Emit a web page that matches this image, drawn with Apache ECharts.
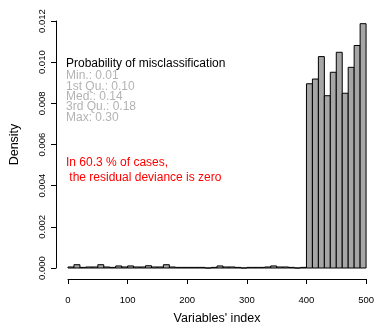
<!DOCTYPE html>
<html>
<head>
<meta charset="utf-8">
<script src="https://cdn.jsdelivr.net/npm/echarts@6/dist/echarts.min.js"></script>
<style>
  html, body { margin: 0; padding: 0; background: #fff; }
  #chart { width: 377px; height: 330px; }
</style>
</head>
<body>
<div id="chart"></div>
<script>
// histogram breaks (left edges of the bins)
var binStarts = [0, 10, 20, 30, 40, 50, 60, 70, 80, 90,
  100, 110, 120, 130, 140, 150, 160, 170, 180, 190,
  200, 210, 220, 230, 240, 250, 260, 270, 280, 290,
  300, 310, 320, 330, 340, 350, 360, 370, 380, 390,
  400, 410, 420, 430, 440, 450, 460, 470, 480, 490];
var binWidth = 10;
// density per bin
var density = [0.00005, 0.00016, 0.00003, 0.00005, 0.00005, 0.00016, 0.00005, 0.00003, 0.0001, 0.00005,
  0.0001, 0.00005, 0.00005, 0.00011, 0.00005, 0.00005, 0.00016, 0.00005, 0.00003, 0.00003,
  0.00003, 0.00003, 0.00003, 0, 0.00003, 0.0001, 0.00005, 0.00005, 0.00003, 0,
  0.00003, 0.00003, 0.00003, 0.00005, 0.0001, 0.00005, 0.00005, 0.00003, 0, 0.00003,
  0.00895, 0.00918, 0.01027, 0.00837, 0.00951, 0.01048, 0.00849, 0.00975, 0.01081, 0.01187];

var yTicks = ["0.000", "0.002", "0.004", "0.006", "0.008", "0.010", "0.012"];

var summaryTitle = "Probability of misclassification";
var summaryLines = ["Min.: 0.01", "1st Qu.: 0.10", "Med.: 0.14", "3rd Qu.: 0.18", "Max: 0.30"];
var noteLines = ["In 60.3 % of cases,", " the residual deviance is zero"];

var histData = binStarts.map(function (s, i) {
  return [s, s + binWidth, density[i]];
});

var font = "Liberation Sans, Arial, sans-serif";

var myChart = echarts.init(document.getElementById("chart"));

var graphics = [{
  type: "text", left: 66, top: 57.5,
  style: { text: summaryTitle, fill: "#000", font: "12px " + font }
}];
summaryLines.forEach(function (t, i) {
  graphics.push({
    type: "text", left: 66, top: 70 + i * 10.35,
    style: { text: t, fill: "#b3b3b3", font: "12px " + font }
  });
});
noteLines.forEach(function (t, i) {
  graphics.push({
    type: "text", left: 66, top: 156.5 + i * 15,
    style: { text: t, fill: "#ff0000", font: "12px " + font }
  });
});

myChart.setOption({
  animation: false,
  grid: { left: 66, right: 8, top: 21, bottom: 57 },
  xAxis: {
    type: "value", min: 0, max: 500, interval: 100,
    offset: 11,
    name: "Variables' index", nameLocation: "middle", nameGap: 33,
    nameTextStyle: { color: "#000", fontSize: 12.5, fontFamily: font },
    axisLine: { show: true, onZero: false, lineStyle: { color: "#000", width: 1 } },
    axisTick: { show: true, length: 5, lineStyle: { color: "#000" } },
    axisLabel: { color: "#000", fontSize: 9.5, fontFamily: font, margin: 16 },
    splitLine: { show: false }
  },
  yAxis: {
    type: "value", min: 0, max: 0.012, interval: 0.002,
    offset: 12,
    name: "Density", nameLocation: "middle", nameGap: 35,
    nameTextStyle: { color: "#000", fontSize: 12.5, fontFamily: font },
    axisLine: { show: true, onZero: false, lineStyle: { color: "#000", width: 1 } },
    axisTick: { show: true, length: 5, lineStyle: { color: "#000" } },
    axisLabel: {
      color: "#000", fontSize: 9.5, fontFamily: font, margin: 9, rotate: 90,
      formatter: function (v) { return yTicks[Math.round(v / 0.002)]; }
    },
    splitLine: { show: false }
  },
  graphic: graphics,
  series: [{
    type: "custom",
    data: histData,
    encode: { x: [0, 1], y: 2 },
    renderItem: function (params, api) {
      var p0 = api.coord([api.value(0), api.value(2)]);
      var p1 = api.coord([api.value(1), 0]);
      return {
        type: "rect",
        shape: { x: p0[0], y: p0[1], width: p1[0] - p0[0], height: p1[1] - p0[1] },
        style: { fill: "#a6a6a6", stroke: "#000", lineWidth: 1 }
      };
    }
  }]
});
</script>
</body>
</html>
